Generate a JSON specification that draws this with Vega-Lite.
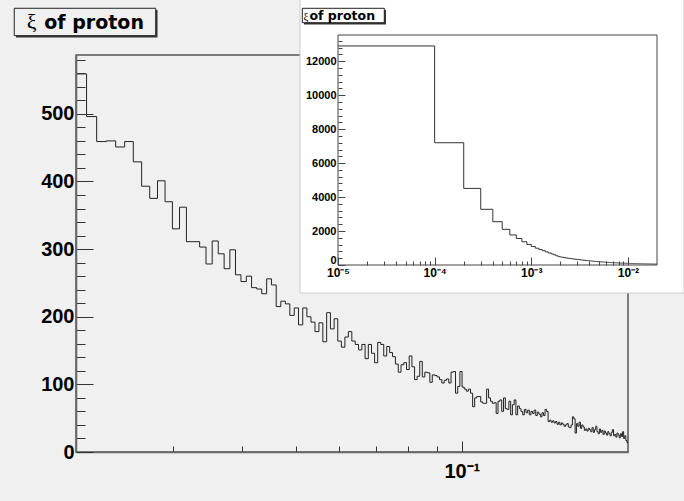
{
"$schema":"https://vega.github.io/schema/vega-lite/v6.json",
"width":552,"height":397,
"autosize":{"type":"none"},
"padding":{"left":76,"top":55,"right":56,"bottom":49},
"background":"#f0f0f0",
"config":{"view":{"stroke":"#555555","strokeWidth":1.5},"axis":{"labelFont":"Liberation Sans","labelFontWeight":"bold","labelColor":"#000000","grid":false,"zindex":1,"labelOverlap":false,"labelFlush":false,"tickCount":1000}},
"datasets":{
"main":[{"x":0.02,"n":559},{"x":0.0209,"n":496},{"x":0.0218,"n":459},{"x":0.0227,"n":460},{"x":0.0236,"n":451},{"x":0.0245,"n":459},{"x":0.0254,"n":429},{"x":0.0263,"n":393},{"x":0.0272,"n":375},{"x":0.0281,"n":401},
{"x":0.029,"n":370},{"x":0.0299,"n":330},{"x":0.0308,"n":362},{"x":0.0317,"n":311},{"x":0.0326,"n":311},{"x":0.0335,"n":303},{"x":0.0344,"n":278},{"x":0.0353,"n":312},{"x":0.0362,"n":293},{"x":0.0371,"n":271},
{"x":0.038,"n":299},{"x":0.0389,"n":262},{"x":0.0398,"n":252},{"x":0.0407,"n":260},{"x":0.0416,"n":243},{"x":0.0425,"n":241},{"x":0.0434,"n":234},{"x":0.0443,"n":256},{"x":0.0452,"n":247},{"x":0.0461,"n":215},
{"x":0.047,"n":223},{"x":0.0479,"n":219},{"x":0.0488,"n":202},{"x":0.0497,"n":213},{"x":0.0506,"n":188},{"x":0.0515,"n":213},{"x":0.0524,"n":200},{"x":0.0533,"n":192},{"x":0.0542,"n":178},{"x":0.0551,"n":191},
{"x":0.056,"n":163},{"x":0.0569,"n":206},{"x":0.0578,"n":182},{"x":0.0587,"n":197},{"x":0.0596,"n":164},{"x":0.0605,"n":155},{"x":0.0614,"n":170},{"x":0.0623,"n":178},{"x":0.0632,"n":164},{"x":0.0641,"n":159},
{"x":0.065,"n":151},{"x":0.0659,"n":159},{"x":0.0668,"n":138},{"x":0.0677,"n":159},{"x":0.0686,"n":146},{"x":0.0695,"n":132},{"x":0.0704,"n":162},{"x":0.0713,"n":159},{"x":0.0722,"n":142},{"x":0.0731,"n":156},
{"x":0.074,"n":147},{"x":0.0749,"n":141},{"x":0.0758,"n":130},{"x":0.0767,"n":118},{"x":0.0776,"n":129},{"x":0.0785,"n":132},{"x":0.0794,"n":122},{"x":0.0803,"n":142},{"x":0.0812,"n":126},{"x":0.0821,"n":107},
{"x":0.083,"n":112},{"x":0.0839,"n":134},{"x":0.0848,"n":111},{"x":0.0857,"n":118},{"x":0.0866,"n":117},{"x":0.0875,"n":103},{"x":0.0884,"n":114},{"x":0.0893,"n":113},{"x":0.0902,"n":111},{"x":0.0911,"n":107},
{"x":0.092,"n":102},{"x":0.0929,"n":106},{"x":0.0938,"n":108},{"x":0.0947,"n":102},{"x":0.0956,"n":118},{"x":0.0965,"n":119},{"x":0.0974,"n":87},{"x":0.0983,"n":97},{"x":0.0992,"n":119},{"x":0.1001,"n":96},
{"x":0.101,"n":93},{"x":0.1019,"n":90},{"x":0.1028,"n":93},{"x":0.1037,"n":87},{"x":0.1046,"n":67},{"x":0.1055,"n":80},{"x":0.1064,"n":82},{"x":0.1073,"n":82},{"x":0.1082,"n":74},{"x":0.1091,"n":72},
{"x":0.11,"n":72},{"x":0.1109,"n":93},{"x":0.1118,"n":80},{"x":0.1127,"n":75},{"x":0.1136,"n":72},{"x":0.1145,"n":73},{"x":0.1154,"n":57},{"x":0.1163,"n":75},{"x":0.1172,"n":77},{"x":0.1181,"n":60},
{"x":0.119,"n":80},{"x":0.1199,"n":64},{"x":0.1208,"n":63},{"x":0.1217,"n":75},{"x":0.1226,"n":55},{"x":0.1235,"n":70},{"x":0.1244,"n":77},{"x":0.1253,"n":55},{"x":0.1262,"n":68},{"x":0.1271,"n":64},
{"x":0.128,"n":60},{"x":0.1289,"n":55},{"x":0.1298,"n":63},{"x":0.1307,"n":58},{"x":0.1316,"n":62},{"x":0.1325,"n":55},{"x":0.1334,"n":60},{"x":0.1343,"n":57},{"x":0.1352,"n":62},{"x":0.1361,"n":54},
{"x":0.137,"n":59},{"x":0.1379,"n":56},{"x":0.1388,"n":52},{"x":0.1397,"n":58},{"x":0.1406,"n":54},{"x":0.1415,"n":63},{"x":0.1424,"n":60},{"x":0.1433,"n":45},{"x":0.1442,"n":47},{"x":0.1451,"n":44},
{"x":0.146,"n":46},{"x":0.1469,"n":43},{"x":0.1478,"n":45},{"x":0.1487,"n":41},{"x":0.1496,"n":44},{"x":0.1505,"n":40},{"x":0.1514,"n":43},{"x":0.1523,"n":41},{"x":0.1532,"n":38},{"x":0.1541,"n":40},
{"x":0.155,"n":42},{"x":0.1559,"n":37},{"x":0.1568,"n":36},{"x":0.1577,"n":40},{"x":0.1586,"n":52},{"x":0.1595,"n":49},{"x":0.1604,"n":28},{"x":0.1613,"n":42},{"x":0.1622,"n":38},{"x":0.1631,"n":44},
{"x":0.164,"n":35},{"x":0.1649,"n":40},{"x":0.1658,"n":37},{"x":0.1667,"n":32},{"x":0.1676,"n":34},{"x":0.1685,"n":31},{"x":0.1694,"n":35},{"x":0.1703,"n":33},{"x":0.1712,"n":30},{"x":0.1721,"n":36},
{"x":0.173,"n":29},{"x":0.1739,"n":33},{"x":0.1748,"n":38},{"x":0.1757,"n":30},{"x":0.1766,"n":27},{"x":0.1775,"n":34},{"x":0.1784,"n":29},{"x":0.1793,"n":32},{"x":0.1802,"n":26},{"x":0.1811,"n":31},
{"x":0.182,"n":28},{"x":0.1829,"n":25},{"x":0.1838,"n":30},{"x":0.1847,"n":27},{"x":0.1856,"n":24},{"x":0.1865,"n":29},{"x":0.1874,"n":33},{"x":0.1883,"n":24},{"x":0.1892,"n":26},{"x":0.1901,"n":22},
{"x":0.191,"n":28},{"x":0.1919,"n":25},{"x":0.1928,"n":21},{"x":0.1937,"n":27},{"x":0.1946,"n":23},{"x":0.1955,"n":30},{"x":0.1964,"n":20},{"x":0.1973,"n":24},{"x":0.1982,"n":17},{"x":0.1991,"n":14},
{"x":0.2,"n":14}],
"inset":[{"x":0.00001,"n":12900},{"x":0.0001,"n":7200},{"x":0.0002,"n":4510},{"x":0.0003,"n":3280},{"x":0.0004,"n":2550},{"x":0.0005,"n":2100},{"x":0.0006,"n":1770},{"x":0.0007,"n":1560},{"x":0.0008,"n":1370},{"x":0.0009,"n":1210},
{"x":0.001,"n":1090},{"x":0.0011,"n":990},{"x":0.0012,"n":910},{"x":0.0013,"n":840},{"x":0.0014,"n":770},{"x":0.0015,"n":710},{"x":0.0016,"n":650},{"x":0.0017,"n":600},{"x":0.0018,"n":540},{"x":0.0019,"n":490},
{"x":0.002,"n":470},{"x":0.0021,"n":452},{"x":0.0022,"n":428},{"x":0.0023,"n":412},{"x":0.0024,"n":393},{"x":0.0025,"n":382},{"x":0.0026,"n":363},{"x":0.0027,"n":356},{"x":0.0028,"n":343},{"x":0.0029,"n":334},
{"x":0.003,"n":326},{"x":0.0031,"n":313},{"x":0.0032,"n":306},{"x":0.0033,"n":295},{"x":0.0034,"n":288},{"x":0.0035,"n":278},{"x":0.0036,"n":272},{"x":0.0037,"n":262},{"x":0.0038,"n":257},{"x":0.0039,"n":248},
{"x":0.004,"n":244},{"x":0.0041,"n":236},{"x":0.0042,"n":232},{"x":0.0043,"n":225},{"x":0.0044,"n":221},{"x":0.0045,"n":214},{"x":0.0046,"n":211},{"x":0.0047,"n":204},{"x":0.0048,"n":201},{"x":0.0049,"n":195},
{"x":0.005,"n":193},{"x":0.0051,"n":187},{"x":0.0052,"n":185},{"x":0.0053,"n":180},{"x":0.0054,"n":178},{"x":0.0055,"n":173},{"x":0.0056,"n":172},{"x":0.0057,"n":167},{"x":0.0058,"n":166},{"x":0.0059,"n":161},
{"x":0.006,"n":160},{"x":0.0061,"n":156},{"x":0.0062,"n":155},{"x":0.0063,"n":151},{"x":0.0064,"n":150},{"x":0.0065,"n":146},{"x":0.0066,"n":146},{"x":0.0067,"n":142},{"x":0.0068,"n":142},{"x":0.0069,"n":138},
{"x":0.007,"n":138},{"x":0.0071,"n":134},{"x":0.0072,"n":134},{"x":0.0073,"n":130},{"x":0.0074,"n":130},{"x":0.0075,"n":127},{"x":0.0076,"n":127},{"x":0.0077,"n":123},{"x":0.0078,"n":124},{"x":0.0079,"n":120},
{"x":0.008,"n":121},{"x":0.0081,"n":117},{"x":0.0082,"n":118},{"x":0.0083,"n":114},{"x":0.0084,"n":115},{"x":0.0085,"n":112},{"x":0.0086,"n":112},{"x":0.0087,"n":109},{"x":0.0088,"n":110},{"x":0.0089,"n":107},
{"x":0.009,"n":107},{"x":0.0091,"n":104},{"x":0.0092,"n":105},{"x":0.0093,"n":102},{"x":0.0094,"n":103},{"x":0.0095,"n":100},{"x":0.0096,"n":101},{"x":0.0097,"n":98},{"x":0.0098,"n":99},{"x":0.0099,"n":96},
{"x":0.01,"n":97},{"x":0.0101,"n":94},{"x":0.0102,"n":95},{"x":0.0103,"n":93},{"x":0.0104,"n":93},{"x":0.0105,"n":91},{"x":0.0106,"n":92},{"x":0.0107,"n":89},{"x":0.0108,"n":90},{"x":0.0109,"n":88},
{"x":0.011,"n":88},{"x":0.0111,"n":86},{"x":0.0112,"n":87},{"x":0.0113,"n":85},{"x":0.0114,"n":85},{"x":0.0115,"n":83},{"x":0.0116,"n":84},{"x":0.0117,"n":82},{"x":0.0118,"n":83},{"x":0.0119,"n":81},
{"x":0.012,"n":81},{"x":0.0121,"n":80},{"x":0.0122,"n":80},{"x":0.0123,"n":78},{"x":0.0124,"n":79},{"x":0.0125,"n":77},{"x":0.0126,"n":78},{"x":0.0127,"n":76},{"x":0.0128,"n":77},{"x":0.0129,"n":75},
{"x":0.013,"n":75},{"x":0.0131,"n":74},{"x":0.0132,"n":75},{"x":0.0133,"n":73},{"x":0.0134,"n":73},{"x":0.0135,"n":72},{"x":0.0136,"n":73},{"x":0.0137,"n":71},{"x":0.0138,"n":71},{"x":0.0139,"n":70},
{"x":0.014,"n":71},{"x":0.0141,"n":69},{"x":0.0142,"n":70},{"x":0.0143,"n":68},{"x":0.0144,"n":69},{"x":0.0145,"n":67},{"x":0.0146,"n":68},{"x":0.0147,"n":67},{"x":0.0148,"n":67},{"x":0.0149,"n":66},
{"x":0.015,"n":66},{"x":0.0151,"n":65},{"x":0.0152,"n":66},{"x":0.0153,"n":64},{"x":0.0154,"n":65},{"x":0.0155,"n":64},{"x":0.0156,"n":64},{"x":0.0157,"n":63},{"x":0.0158,"n":63},{"x":0.0159,"n":62},
{"x":0.016,"n":63},{"x":0.0161,"n":61},{"x":0.0162,"n":62},{"x":0.0163,"n":61},{"x":0.0164,"n":61},{"x":0.0165,"n":60},{"x":0.0166,"n":61},{"x":0.0167,"n":60},{"x":0.0168,"n":60},{"x":0.0169,"n":59},
{"x":0.017,"n":60},{"x":0.0171,"n":59},{"x":0.0172,"n":59},{"x":0.0173,"n":58},{"x":0.0174,"n":59},{"x":0.0175,"n":58},{"x":0.0176,"n":58},{"x":0.0177,"n":57},{"x":0.0178,"n":58},{"x":0.0179,"n":57},
{"x":0.018,"n":57},{"x":0.0181,"n":56},{"x":0.0182,"n":57},{"x":0.0183,"n":56},{"x":0.0184,"n":56},{"x":0.0185,"n":55},{"x":0.0186,"n":56},{"x":0.0187,"n":55},{"x":0.0188,"n":55},{"x":0.0189,"n":54},
{"x":0.019,"n":55},{"x":0.0191,"n":54},{"x":0.0192,"n":54},{"x":0.0193,"n":53},{"x":0.0194,"n":54},{"x":0.0195,"n":53},{"x":0.0196,"n":53},{"x":0.0197,"n":52},{"x":0.0198,"n":53},{"x":0.0199,"n":52},
{"x":0.02,"n":52}]
},
"layer":[
 {"layer":[
  {"data":{"name":"main"},
   "mark":{"type":"line","interpolate":"step-after","color":"#222222","strokeWidth":1},
   "encoding":{
    "x":{"field":"x","type":"quantitative","scale":{"type":"log","domain":[0.02,0.2],"nice":false},
      "axis":{"orient":"bottom","title":null,"zindex":1,"tickCount":1000,"values":[0.03,0.04,0.05,0.06,0.07,0.08,0.09,0.1],
        "labelExpr":"abs(datum.value-0.1)<1e-9 ? '10⁻¹' : ''",
        "tickSize":{"condition":{"test":"abs(datum.value-0.1)<1e-9","value":-11},"value":-6},
        "labelPadding":20,"labelFontSize":20,"tickColor":"#333333","domainColor":"#666666","domainWidth":1.5}},
    "y":{"field":"n","type":"quantitative","scale":{"domain":[0,587],"nice":false},
      "axis":{"orient":"left","title":null,"zindex":1,"tickCount":1000,"values":[0,20,40,60,80,100,120,140,160,180,200,220,240,260,280,300,320,340,360,380,400,420,440,460,480,500,520,540,560,580],
        "format":"d","labelExpr":"datum.value % 100 === 0 ? datum.label : ''",
        "tickSize":{"condition":{"test":"datum.value % 100 === 0","value":-17},"value":-9},
        "labelPadding":19,"labelFontSize":20,"tickColor":"#333333","domainColor":"#666666","domainWidth":1.5}}
   }},
  {"data":{"values":[{}]},"mark":{"type":"rect","color":"#333333"},
   "encoding":{"x":{"datum":0.015572},"x2":{"datum":0.0281},"y":{"datum":653.6},"y2":{"datum":612.9}}},
  {"data":{"values":[{}]},"mark":{"type":"rect","fill":"#f0f0f0","stroke":"#222222","strokeWidth":1},
   "encoding":{"x":{"datum":0.015458},"x2":{"datum":0.02789},"y":{"datum":656.1},"y2":{"datum":615.6}}},
  {"data":{"values":[{}]},"mark":{"type":"text","text":"ξ","font":"Liberation Serif","fontSize":22,"align":"left","baseline":"alphabetic","color":"#000000"},
   "encoding":{"x":{"datum":0.016284},"y":{"datum":626}}},
  {"data":{"values":[{}]},"mark":{"type":"text","text":"of proton","font":"DejaVu Sans","fontWeight":"bold","fontSize":19,"align":"left","baseline":"alphabetic","color":"#000000"},
   "encoding":{"x":{"datum":0.017524},"y":{"datum":626}}}
 ]},
 {"layer":[
  {"data":{"values":[{}]},"mark":{"type":"rect","fill":"#ffffff","stroke":"#cccccc","strokeWidth":1},
   "encoding":{"x":{"datum":0.000004044},"x2":{"datum":0.03804},"y":{"datum":15665},"y2":{"datum":-1649}}},
  {"data":{"name":"inset"},
   "mark":{"type":"line","interpolate":"step-after","color":"#333333","strokeWidth":1},
   "encoding":{
    "x":{"field":"x","type":"quantitative","scale":{"type":"log","domain":[0.00001,0.02],"range":[262,581],"nice":false},
      "axis":{"orient":"bottom","offset":-187,"title":null,"domain":false,"zindex":2,"tickCount":1000,
        "values":[1e-5,2e-5,3e-5,4e-5,5e-5,6e-5,7e-5,8e-5,9e-5,1e-4,2e-4,3e-4,4e-4,5e-4,6e-4,7e-4,8e-4,9e-4,1e-3,2e-3,3e-3,4e-3,5e-3,6e-3,7e-3,8e-3,9e-3,1e-2],
        "labelExpr":"abs(datum.value-1e-5)<1e-12 ? '10⁻⁵' : abs(datum.value-1e-4)<1e-11 ? '10⁻⁴' : abs(datum.value-1e-3)<1e-10 ? '10⁻³' : abs(datum.value-1e-2)<1e-9 ? '10⁻²' : ''",
        "tickSize":{"condition":{"test":"abs(log(datum.value)/LN10 - round(log(datum.value)/LN10)) < 1e-6","value":-8},"value":-4},
        "labelPadding":10,"labelFontSize":12,"tickColor":"#444444"}},
    "y":{"field":"n","type":"quantitative","scale":{"domain":[0,13545],"range":[210,-20],"nice":false},
      "axis":{"orient":"left","offset":-262,"title":null,"domain":false,"zindex":2,"tickCount":1000,
        "values":[0,400,800,1200,1600,2000,2400,2800,3200,3600,4000,4400,4800,5200,5600,6000,6400,6800,7200,7600,8000,8400,8800,9200,9600,10000,10400,10800,11200,11600,12000,12400,12800,13200],
        "format":"d","labelExpr":"datum.value % 2000 === 0 ? datum.label : ''",
        "labelBaseline":{"condition":{"test":"datum.value === 0","value":"bottom"},"value":"middle"},
        "tickSize":{"condition":{"test":"datum.value % 2000 === 0","value":-7},"value":-4},
        "labelPadding":9,"labelFontSize":11,"tickColor":"#444444"}}
   }},
  {"data":{"values":[{}]},"mark":{"type":"rect","fill":null,"stroke":"#444444","strokeWidth":1},
   "encoding":{"x":{"datum":0.00001},"x2":{"datum":0.02},"y":{"datum":0},"y2":{"datum":13545}}},
  {"data":{"values":[{}]},"mark":{"type":"rect","color":"#333333"},
   "encoding":{"x":{"datum":0.000004449},"x2":{"datum":0.00003138},"y":{"datum":15017},"y2":{"datum":14163}}},
  {"data":{"values":[{}]},"mark":{"type":"rect","fill":"#ffffff","stroke":"#222222","strokeWidth":1},
   "encoding":{"x":{"datum":0.000004273},"x2":{"datum":0.00003013},"y":{"datum":15117},"y2":{"datum":14269}}},
  {"data":{"values":[{}]},"mark":{"type":"text","text":"ξ","font":"Liberation Serif","fontSize":11,"align":"left","baseline":"alphabetic","color":"#000000"},
   "encoding":{"x":{"datum":0.000004395},"y":{"datum":14457}}},
  {"data":{"values":[{}]},"mark":{"type":"text","text":"of proton","font":"DejaVu Sans","fontWeight":"bold","fontSize":12.5,"align":"left","baseline":"alphabetic","color":"#000000"},
   "encoding":{"x":{"datum":0.00000507},"y":{"datum":14457}}}
 ]}
],
"resolve":{"scale":{"x":"independent","y":"independent"},"axis":{"x":"independent","y":"independent"}}
}
